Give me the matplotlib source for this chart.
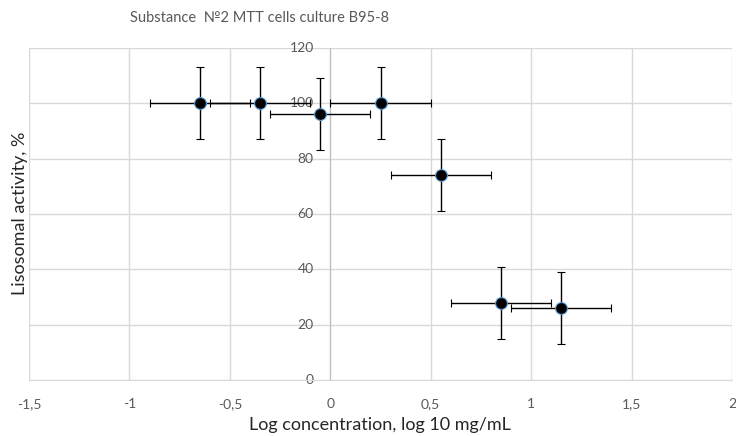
import matplotlib
matplotlib.use("Agg")
import matplotlib.pyplot as plt
from matplotlib.ticker import FuncFormatter

# data
log_conc = [-0.65, -0.35, -0.05, 0.25, 0.55, 0.85, 1.15]
activity = [100, 100, 96, 100, 74, 28, 26]
x_err = [0.25, 0.25, 0.25, 0.25, 0.25, 0.25, 0.25]
y_err = [13, 13, 13, 13, 13, 13, 13]

x_ticks = [-1.5, -1, -0.5, 0, 0.5, 1, 1.5, 2]
y_ticks = [0, 20, 40, 60, 80, 100, 120]

plt.rcParams['font.family'] = ['Lato', 'DejaVu Sans']

fig = plt.figure(figsize=(7.36, 4.36), dpi=100)
ax = fig.add_axes([29/736, 1-380/436, (732-29)/736, (380-48)/436])

ax.errorbar(log_conc, activity, xerr=x_err, yerr=y_err, fmt='o',
            color='black', ecolor='black', elinewidth=1.0, capsize=3,
            capthick=1.0, markersize=8.5, markeredgecolor='#5B9BD5',
            markeredgewidth=0.8, zorder=3)

ax.set_xlim(-1.5, 2)
ax.set_ylim(0, 120)
ax.set_xticks(x_ticks)
ax.set_yticks(y_ticks)
ax.xaxis.set_major_formatter(FuncFormatter(lambda v, p: ('%g' % v).replace('.', ',')))
ax.grid(True, color='#d9d9d9', linewidth=1.0, zorder=0)

for s in ['top', 'right']:
    ax.spines[s].set_visible(False)
ax.spines['bottom'].set_color('#d9d9d9')
ax.spines['left'].set_position(('data', 0))
ax.spines['left'].set_color('#bfbfbf')
ax.tick_params(axis='both', length=0, colors='#595959', labelsize=10)
ax.tick_params(axis='x', pad=13)
ax.tick_params(axis='y', pad=12)
for lab in ax.get_yticklabels():
    lab.set_verticalalignment('center')

fig.text(380/736, 1-425/436, 'Log concentration, log 10 mg/mL', ha='center',
         va='center', fontsize=13, color='#262626')
fig.text(20/736, 1-213/436, 'Lisosomal activity, %', ha='center', va='center',
         rotation=90, fontsize=13, color='#262626')
fig.text(260/736, 1-18/436, 'Substance  \u21162 MTT cells culture B95-8', ha='center',
         va='center', fontsize=10.5, color='#595959')

fig.savefig('out.png', dpi=100)
